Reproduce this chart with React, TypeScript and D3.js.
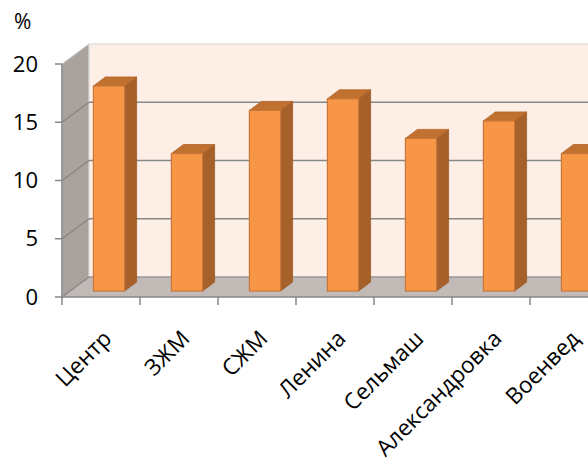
import React, { useEffect, useRef } from 'react';
import * as d3 from 'd3';

const categories = ['Центр', 'ЗЖМ', 'СЖМ', 'Ленина', 'Сельмаш', 'Александровка', 'Военвед'];
const values = [17.6, 11.8, 15.5, 16.5, 13.1, 14.6, 11.8];
const yTicks = [0, 5, 10, 15, 20];

const App = () => {
	const ref = useRef(null);
	const width = 588;
	const height = 462;

	useEffect(() => {
		if (!ref.current) return;
		const svg = d3.select(ref.current);
		svg.selectAll('*').remove();

		const font = "'Open Sans', 'Noto Sans', sans-serif";
		const x0 = 62;
		const band = 78;
		const depth = { dx: 27, dy: -20 };
		const barOff = { dx: 8, dy: -6 };
		const barDepth = { dx: 12, dy: -9 };

		const xScale = d3
			.scaleBand()
			.domain(categories)
			.range([x0, x0 + band * categories.length])
			.paddingInner(0)
			.paddingOuter(0);
		const yScale = d3.scaleLinear().domain([0, 20]).range([297, 64]);
		const right = x0 + band * categories.length + 40;

		// side wall
		svg.append('polygon')
			.attr('points', [
				[x0, yScale(0)],
				[x0, yScale(20)],
				[x0 + depth.dx, yScale(20) + depth.dy],
				[x0 + depth.dx, yScale(0) + depth.dy],
			].join(' '))
			.attr('fill', '#a9a29d')
			.attr('stroke', '#c9c9c9');

		// back wall
		svg.append('rect')
			.attr('x', x0 + depth.dx)
			.attr('y', yScale(20) + depth.dy)
			.attr('width', right)
			.attr('height', yScale(0) - yScale(20))
			.attr('fill', '#fdeee6')
			.attr('stroke', '#d4d4d4');

		// floor
		svg.append('polygon')
			.attr('points', [
				[x0, yScale(0)],
				[x0 + depth.dx, yScale(0) + depth.dy],
				[right + depth.dx, yScale(0) + depth.dy],
				[right, yScale(0)],
			].join(' '))
			.attr('fill', '#c2bab6');

		// gridlines
		const grid = svg.append('g');
		grid.selectAll('.gback')
			.data(yTicks.filter(d => d > 0 && d < 20))
			.join('line')
			.attr('x1', x0 + depth.dx)
			.attr('x2', right + depth.dx)
			.attr('y1', d => yScale(d) + depth.dy)
			.attr('y2', d => yScale(d) + depth.dy)
			.attr('stroke', '#878787')
			.attr('stroke-width', 1.5);
		grid.selectAll('.gside')
			.data(yTicks.filter(d => d < 20))
			.join('line')
			.attr('x1', x0)
			.attr('x2', x0 + depth.dx)
			.attr('y1', d => yScale(d))
			.attr('y2', d => yScale(d) + depth.dy)
			.attr('stroke', '#878787')
			.attr('stroke-width', 1.5);
		svg.append('line')
			.attr('x1', x0 + depth.dx)
			.attr('x2', right + depth.dx)
			.attr('y1', yScale(0) + depth.dy)
			.attr('y2', yScale(0) + depth.dy)
			.attr('stroke', '#9a9a9a')
			.attr('stroke-width', 1.5);

		// bars
		const bw = band * 0.4;
		const bars = svg.selectAll('.bar')
			.data(categories.map((c, i) => ({ c, v: values[i] })))
			.join('g')
			.attr('class', 'bar');
		const bx = d => xScale(d.c) + (band - bw) / 2 + barOff.dx;
		const by = d => yScale(d.v) + barOff.dy;
		const bb = yScale(0) + barOff.dy;
		// side face
		bars.append('polygon')
			.attr('points', d => [
				[bx(d) + bw, by(d)],
				[bx(d) + bw + barDepth.dx, by(d) + barDepth.dy],
				[bx(d) + bw + barDepth.dx, bb + barDepth.dy],
				[bx(d) + bw, bb],
			].join(' '))
			.attr('fill', '#a6602a')
			.attr('stroke', '#9a5a26')
			.attr('stroke-width', 0.8);
		// top face
		bars.append('polygon')
			.attr('points', d => [
				[bx(d), by(d)],
				[bx(d) + barDepth.dx, by(d) + barDepth.dy],
				[bx(d) + bw + barDepth.dx, by(d) + barDepth.dy],
				[bx(d) + bw, by(d)],
			].join(' '))
			.attr('fill', '#c0702f')
			.attr('stroke', '#b0662a')
			.attr('stroke-width', 0.8);
		// front face
		bars.append('rect')
			.attr('x', bx)
			.attr('y', by)
			.attr('width', bw)
			.attr('height', d => bb - by(d))
			.attr('fill', '#f79646')
			.attr('stroke', '#c8763a')
			.attr('stroke-width', 1.2);

		// y axis
		svg.append('line')
			.attr('x1', x0).attr('x2', x0)
			.attr('y1', yScale(20)).attr('y2', yScale(0))
			.attr('stroke', '#878787').attr('stroke-width', 1.5);
		svg.selectAll('.ytick')
			.data(yTicks)
			.join('line')
			.attr('x1', x0 - 7).attr('x2', x0)
			.attr('y1', d => yScale(d)).attr('y2', d => yScale(d))
			.attr('stroke', '#878787').attr('stroke-width', 1.5);
		svg.selectAll('.ylabel')
			.data(yTicks)
			.join('text')
			.attr('x', x0 - 24)
			.attr('y', d => yScale(d))
			.attr('dy', '0.35em')
			.attr('text-anchor', 'end')
			.style('font-family', font)
			.style('font-size', '22px')
			.attr('fill', '#000')
			.text(d => d);

		svg.append('text')
			.attr('x', 14)
			.attr('y', 29)
			.style('font-family', font)
			.style('font-size', '21px')
			.text('%');

		// x axis
		svg.append('line')
			.attr('x1', x0).attr('x2', right)
			.attr('y1', yScale(0)).attr('y2', yScale(0))
			.attr('stroke', '#878787').attr('stroke-width', 1.5);
		svg.selectAll('.xtick')
			.data(d3.range(categories.length + 1))
			.join('line')
			.attr('x1', i => x0 + i * band).attr('x2', i => x0 + i * band)
			.attr('y1', yScale(0)).attr('y2', yScale(0) + 8)
			.attr('stroke', '#878787').attr('stroke-width', 1.5);
		svg.selectAll('.xlabel')
			.data(categories)
			.join('text')
			.attr('text-anchor', 'end')
			.attr('transform', d => `translate(${xScale(d) + band / 2 + 12},${340}) rotate(-45)`)
			.style('font-family', font)
			.style('font-size', '22.5px')
			.attr('fill', '#000')
			.text(d => d);
	}, []);

	return (
		<svg
			ref={ref}
			width={width}
			height={height}
			style={{ position: 'absolute', left: 0, top: 0, background: '#fff' }}
		/>
	);
};

export default App;
